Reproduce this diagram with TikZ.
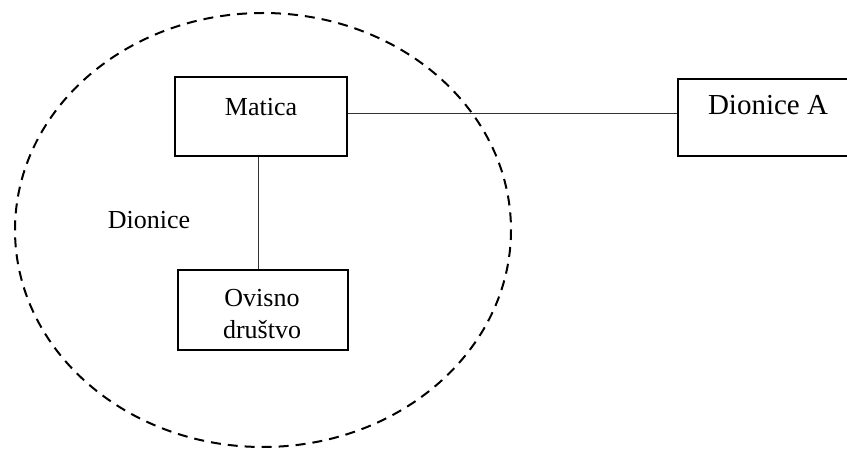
\documentclass[tikz,border=0pt]{standalone}
\usepackage{fontspec}
\setmainfont{Liberation Serif}
\begin{document}
\begin{tikzpicture}[x=1pt,y=-1pt,
  boxnode/.style={draw,line width=2pt,rectangle,inner sep=0pt},
  txt/.style={inner sep=0pt,font=\fontsize{26}{30}\selectfont},
  bigtxt/.style={inner sep=0pt,font=\fontsize{29}{33}\selectfont},
  conn/.style={line width=1pt,draw=black!80},
  group/.style={line width=2pt,dash pattern=on 10pt off 7pt}]
\useasboundingbox (0,0) rectangle (847,449);
\draw[group] (263,230) ellipse [x radius=248, y radius=217];
\node[boxnode,minimum width=172pt,minimum height=79pt] (matica) at (261,116.5) {};
\node[boxnode,minimum width=175pt,minimum height=77pt] (dionicea) at (765.5,117.5) {};
\node[boxnode,minimum width=170pt,minimum height=80pt] (ovisno) at (263,310) {};
\node[txt] (tmatica) at (261,107) {Matica};
\node[bigtxt] (tdionicea) at (768,105) {Dionice A};
\node[txt] (tovisno) at (262,298) {Ovisno};
\node[txt] (tdrustvo) at (262,330) {društvo};
\node[txt] (tdionice) at (149,220) {Dionice};
\coordinate (xl) at (258,0);
\coordinate (yl) at (0,114);
\draw[conn] (matica.east |- yl) -- (dionicea.west |- yl);
\draw[conn] (matica.south -| xl) -- (ovisno.north -| xl);
\end{tikzpicture}
\end{document}
